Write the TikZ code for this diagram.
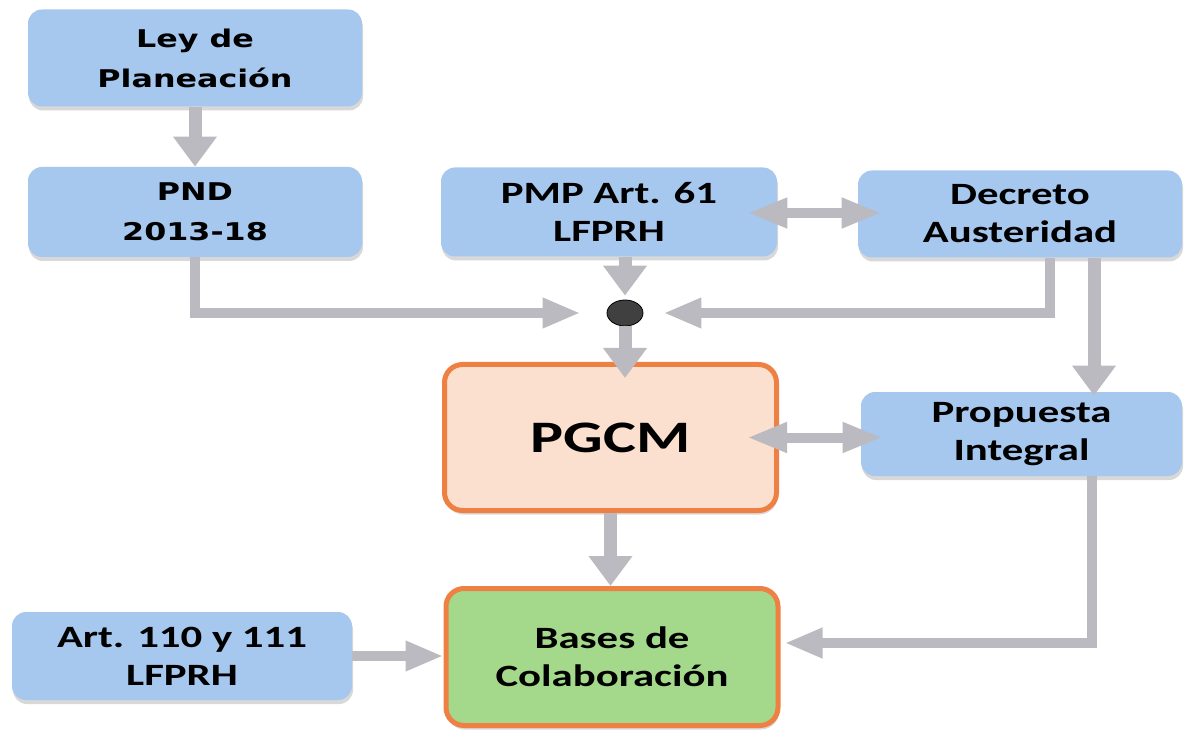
\documentclass[tikz,border=0pt]{standalone}
\usepackage{fontspec}
\usetikzlibrary{arrows.meta,shapes.geometric,shadows}
\newfontfamily\calfont[FakeStretch=1.38]{Carlito}
\newfontfamily\verfont[FakeStretch=1.3]{DejaVu Sans}
\definecolor{boxblue}{RGB}{166,199,238}
\definecolor{boxpeach}{RGB}{251,223,207}
\definecolor{boxgreen}{RGB}{164,217,140}
\definecolor{boxorange}{RGB}{237,128,66}
\definecolor{arrowgray}{RGB}{186,186,192}
\tikzset{
  bluebox/.style={fill=boxblue,rounded corners=7pt,align=center,
    minimum width=167pt,minimum height=45pt,
    drop shadow={shadow xshift=0.5pt,shadow yshift=-2pt,fill=black!30,opacity=0.5},
    font=\calfont\bfseries\fontsize{15.5}{19}\selectfont},
  verbox/.style={bluebox,font=\verfont\bfseries\fontsize{12.2}{20}\selectfont},
  mainbox/.style={bluebox,draw=boxorange,line width=2.5pt,rounded corners=9pt},
  varrow/.style={draw=arrowgray,line width=6.5pt,-{Triangle[width=21pt,length=15pt]}},
  harrow/.style={draw=arrowgray,line width=5pt,-{Triangle[width=14pt,length=19pt]}},
  dblarrow/.style={draw=arrowgray,line width=5pt,{Triangle[width=14pt,length=20pt]}-{Triangle[width=14pt,length=20pt]}}
}
\begin{document}
\begin{tikzpicture}[x=0.5pt,y=-0.5pt]
\useasboundingbox (0,0) rectangle (1193,732);
\node [verbox,name=ley,minimum height=48.5pt] at (195,58){Ley de\\Planeación};
\node [verbox,name=pnd] at (195,212){PND\\2013-18};
\node [bluebox,name=pmp,minimum width=168pt,minimum height=44.5pt] at (609,212){PMP Art. 61\\LFPRH};
\node [bluebox,name=dec,minimum width=162pt,minimum height=43.5pt] at (1020,214){Decreto\\Austeridad};
\node [draw=black,fill=black!75,shape=ellipse,name=dot,minimum width=18pt,minimum height=13pt,inner sep=0pt] at (625,313){};
\node [mainbox,fill=boxpeach,name=pgcm,minimum width=166pt,minimum height=73pt,font=\calfont\bfseries\fontsize{22.5}{26}\selectfont] at (610.5,437.5){PGCM};
\node [bluebox,name=prop,minimum width=160.5pt,minimum height=42pt] at (1021.5,434){Propuesta\\Integral};
\node [mainbox,fill=boxgreen,name=bases,minimum width=166pt,minimum height=68.5pt] at (612,657){Bases de\\Colaboración};
\node [bluebox,name=art,minimum width=170pt,minimum height=44pt] at (182,656){Art. 110 y 111\\LFPRH};
\draw[varrow] (ley)--(pnd);
\draw[varrow] (dot |- pmp.south)--([yshift=2pt]dot.north);
\draw[varrow] (dot.south)--([yshift=-8pt]dot |- pgcm.north);
\draw[harrow,shorten >=13pt] (pnd.south) |- (dot.west);
\draw[harrow,shorten >=10pt] ([xshift=15pt]dec.south) |- (dot.east);
\draw[varrow] ([xshift=37pt]dec.south)--([xshift=37pt,yshift=-2pt]dec.south |- prop.north);
\draw[dblarrow] ([xshift=-15pt,yshift=-0.5pt]pmp.east)--([xshift=12pt,yshift=0.5pt]dec.west);
\draw[dblarrow] ([xshift=-16pt]pgcm.east)--([xshift=11pt]pgcm.east -| prop.west);
\draw[varrow] (pgcm.south)--(pgcm.south |- bases.north);
\draw[harrow,shorten >=2pt] ([xshift=35pt]prop.south) |- ([yshift=7pt]bases.east);
\draw[harrow] (art.east)--(art.east -| bases.west);
\end{tikzpicture}
\end{document}
